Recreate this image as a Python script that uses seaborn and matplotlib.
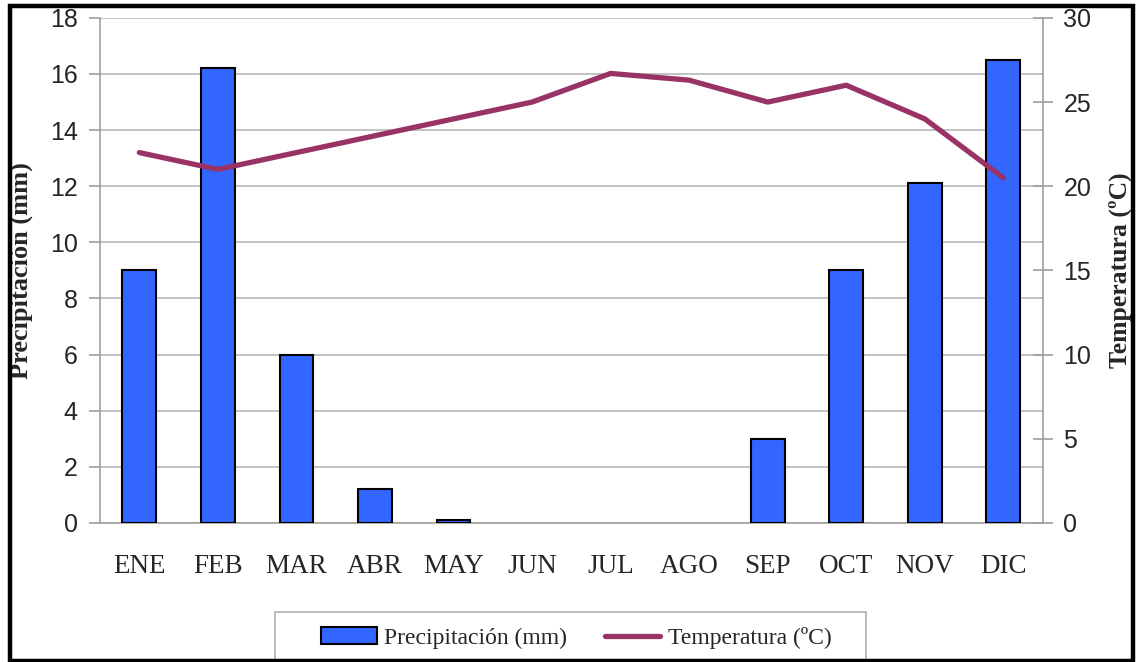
import numpy as np
import pandas as pd
import matplotlib
matplotlib.use("Agg")
import matplotlib.pyplot as plt
import seaborn as sns
from matplotlib.patches import Rectangle, Patch
from matplotlib.lines import Line2D

# Data
months = ['ENE', 'FEB', 'MAR', 'ABR', 'MAY', 'JUN', 'JUL', 'AGO', 'SEP', 'OCT', 'NOV', 'DIC']
precip = [9.0, 16.2, 6.0, 1.2, 0.1, 0.0, 0.0, 0.0, 3.0, 9.0, 12.1, 16.5]
temp = [22.0, 21.0, 22.0, 23.0, 24.0, 25.0, 26.7, 26.3, 25.0, 26.0, 24.0, 20.5]

df = pd.DataFrame({'mes': months, 'precip': precip, 'temp': temp})
df['pos'] = np.arange(len(months))

sns.set_style("white")
serif = ['Liberation Serif', 'DejaVu Serif']
sans = ['Liberation Sans', 'DejaVu Sans']
plt.rcParams['font.family'] = sans

bar_color = '#3366FF'
line_color = '#993366'
grey = '#a0a0a0'

fig = plt.figure(figsize=(11.37, 6.62), dpi=100)
ax = fig.add_axes([0.088, 0.210, 0.829, 0.763])

sns.barplot(data=df, x='mes', y='precip', color=bar_color, width=0.43,
            edgecolor='black', linewidth=1.5, saturation=1, ax=ax, zorder=3)
# no outline on empty months
for p in ax.patches:
    if p.get_height() == 0:
        p.set_linewidth(0)

ax.set_xlim(-0.5, len(months) - 0.5)
ax.set_ylim(0, 18)
ax.set_yticks(np.arange(0, 19, 2))
ax.yaxis.grid(True, color='#b8b8b8', linewidth=1.2, zorder=0)
ax.set_axisbelow(True)
ax.set_xlabel('')
ax.set_ylabel('Precipitación (mm)', fontsize=19, fontweight='bold', family=serif, labelpad=12)

ax.set_xticks(np.arange(len(months)))
ax.set_xticklabels(months, family=serif, fontsize=19.5)
ax.set_xticks(np.arange(-0.5, len(months), 1), minor=True)
ax.tick_params(axis='x', which='major', length=0, pad=22)
ax.tick_params(axis='x', which='minor', length=16, direction='inout', color=grey, width=1.2)
ax.tick_params(axis='y', labelsize=18, length=8, direction='out', color=grey, width=1.2, pad=8)

for s in ['top', 'right']:
    ax.spines[s].set_visible(False)
for s in ['left', 'bottom']:
    ax.spines[s].set_color(grey)
    ax.spines[s].set_linewidth(1.2)

ax2 = ax.twinx()
sns.lineplot(data=df, x='pos', y='temp', color=line_color, linewidth=3.8, ax=ax2, zorder=4)
ax2.set_ylim(0, 30)
ax2.set_yticks(np.arange(0, 31, 5))
ax2.set_xlim(-0.5, len(months) - 0.5)
ax2.set_xlabel('')
ax2.set_ylabel('Temperatura (ºC)', fontsize=18.5, fontweight='bold', family=serif, labelpad=12)
ax2.tick_params(axis='y', labelsize=18, length=14, direction='inout', color=grey, width=1.2, pad=8)
for s in ['top', 'left', 'bottom']:
    ax2.spines[s].set_visible(False)
ax2.spines['right'].set_color(grey)
ax2.spines['right'].set_linewidth(1.2)

# legend entries, with the grey box drawn separately (its bottom runs under the frame)
handles = [Patch(facecolor=bar_color, edgecolor='black', linewidth=1.5),
           Line2D([0], [0], color=line_color, linewidth=3.8)]
leg = fig.legend(handles, ['Precipitación (mm)', 'Temperatura (ºC)'], loc='center',
                 bbox_to_anchor=(0.5066, 0.036), ncol=2, frameon=False,
                 prop={'family': serif, 'size': 17}, handlelength=2.37, handleheight=0.72,
                 handletextpad=0.3, columnspacing=1.6, borderpad=0, borderaxespad=0)
fig.patches.append(Rectangle((0.2419, 0.0), 0.52, 0.0755, transform=fig.transFigure,
                             fill=False, edgecolor='#b0b0b0', linewidth=1.2, zorder=5))

# outer black frame
fig.patches.append(Rectangle((0.0084, 0.0015), 0.988, 0.9887, transform=fig.transFigure,
                             fill=False, edgecolor='black', linewidth=3.2, zorder=10))

fig.savefig('out.png', dpi=100)
